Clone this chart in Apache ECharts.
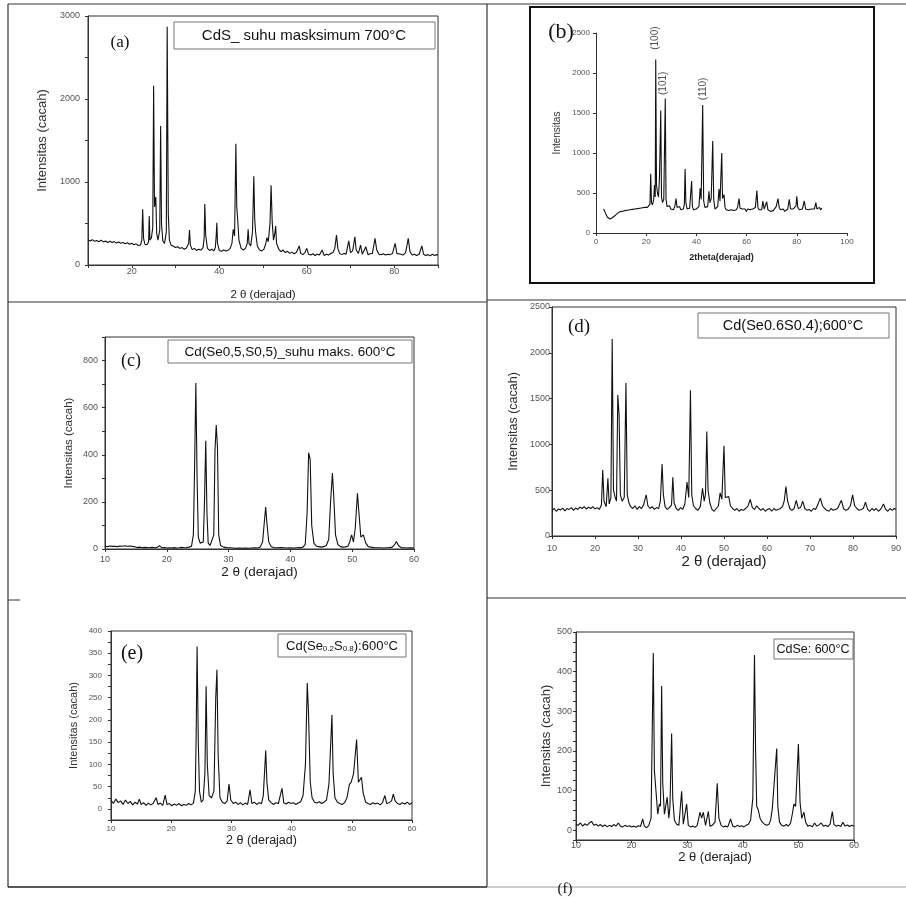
<!DOCTYPE html>
<html>
<head>
<meta charset="utf-8">
<script src="https://cdn.jsdelivr.net/npm/echarts@6/dist/echarts.min.js"></script>
<style>
  html, body { margin: 0; padding: 0; background: #fff; }
  #main { width: 906px; height: 897px; }
</style>
</head>
<body>
<div id="main"></div>
<script>
// ---- diffraction patterns: [2theta, counts] ----
var cdsA = [[10,300],[10.5,290],[11,305],[11.5,285],[12,295],[12.5,280],[13,300],[13.5,278],[14,290],[14.5,272],[15,285],[15.5,270],[16,282],[16.5,265],[17,278],[17.5,262],[18,270],[18.5,255],[19,268],[19.5,250],[20,262],[20.5,245],[21,255],[21.5,235],[22,240],
  [22.3,300],[22.5,670],[22.7,320],[23,250],[23.5,245],[23.85,280],[24,590],[24.15,300],[24.5,330],[24.8,450],[25,2160],[25.2,700],[25.5,820],[25.7,380],[26,300],[26.4,420],[26.6,1675],[26.8,500],[27.1,290],[27.5,260],[27.9,400],[28.1,2870],[28.35,620],[28.6,300],
  [29,240],[29.5,225],[30,210],[30.5,220],[31,200],[31.5,210],[32,190],[32.5,205],[33,260],[33.2,420],[33.4,240],[33.8,185],[34.3,200],[34.8,175],[35.3,190],[35.8,180],[36.3,210],[36.55,330],[36.7,735],[36.9,360],[37.3,200],[37.8,175],[38.3,190],[38.8,170],[39.1,210],[39.3,350],[39.45,510],[39.6,260],
  [40,175],[40.5,165],[41,180],[41.5,170],[42,175],[42.5,200],[42.9,260],[43.2,430],[43.5,350],[43.8,1460],[44,700],[44.2,560],[44.5,300],[45,200],[45.5,180],[46,200],[46.4,260],[46.6,430],[46.8,260],[47.2,230],[47.6,400],[47.9,1070],[48.1,560],[48.3,400],[48.7,230],[49.2,180],[49.7,170],
  [50.2,190],[50.6,250],[50.9,330],[51.2,280],[51.6,500],[51.85,960],[52.1,520],[52.4,300],[52.7,380],[52.9,470],[53.1,260],[53.6,190],[54.1,160],[54.6,180],[55.1,150],[55.6,165],[56.1,140],[56.6,155],[57.1,135],[57.6,150],[58,140],[58.3,230],[58.6,140],[59.1,125],[59.6,150],
  [60,200],[60.4,130],[60.9,120],[61.4,135],[61.9,115],[62.4,130],[62.9,120],[63.5,180],[64,115],[64.5,130],[65,120],[65.5,140],[66,150],[66.4,200],[66.8,360],[67.1,200],[67.5,140],[68,125],[68.5,140],[69,130],[69.6,290],[70,150],[70.5,170],[71,340],[71.3,180],[71.8,140],[72.3,240],[72.7,130],[73.5,220],[74,125],[74.5,135],[75,140],[75.6,320],[76,180],[76.5,130],[77,125],[77.5,135],[78,120],[78.5,130],[79,125],[79.6,140],
  [80.2,260],[80.6,140],[81,120],[81.5,130],[82,120],[82.6,150],[83.2,320],[83.6,160],[84.1,120],[84.6,130],[85.1,115],[85.7,130],[86.3,230],[86.7,130],[87.2,115],[87.7,125],[88.2,110],[88.7,130],[89.2,115],[89.7,125],[90,120]];

var patternB = [[3,300],[3.5,270],[4,230],[4.5,200],[5,185],[5.5,175],[6,180],[6.5,190],[7,200],[7.5,215],[8,230],[8.5,245],[9,255],[9.5,265],[10,275],[10.5,270],[11,285],[11.5,280],[12,290],[12.5,285],[13,295],[13.5,290],[14,300],[14.5,295],[15,305],[15.5,300],[16,310],[16.5,305],[17,320],[17.5,310],[18,330],[18.5,315],[19,325],[19.5,320],[20,330],[20.5,320],[21,340],[21.5,360],
  [21.8,740],[22.1,380],[22.5,350],[23,420],[23.3,600],[23.6,450],[23.8,2170],[24.1,600],[24.5,500],[24.9,450],[25.3,700],[25.8,1530],[26.1,450],[26.5,380],[27,420],[27.6,1680],[27.9,420],[28.3,330],[28.8,310],[29.3,340],[29.8,300],[30.3,320],[30.8,290],[31.4,330],[31.9,430],[32.3,320],[32.8,300],[33.3,330],[33.8,290],[34.3,310],[34.8,300],[35.2,360],[35.5,800],[35.8,380],[36.3,300],[36.8,290],[37.3,310],[37.8,330],[38.1,650],[38.4,330],[38.9,290],[39.4,270],[39.9,300],
  [40.4,280],[41,330],[41.5,560],[41.9,420],[42.5,1600],[42.9,400],[43.4,320],[43.9,300],[44.5,330],[45,520],[45.4,380],[45.9,430],[46.5,1150],[46.9,420],[47.4,300],[47.9,310],[48.5,330],[49,550],[49.4,400],[50.1,1000],[50.4,430],[51,480],[51.4,320],[51.9,290],[52.4,300],[52.9,280],[53.4,300],[53.9,290],[54.4,310],[54.9,280],[55.4,300],[55.9,290],[56.4,320],[57,430],[57.4,310],[57.9,290],[58.4,300],[58.9,280],[59.4,300],[59.9,270],
  [60.4,300],[60.9,280],[61.4,290],[61.9,270],[62.4,300],[62.9,280],[63.5,320],[64.1,530],[64.5,320],[65,290],[65.5,300],[66,290],[66.5,400],[67,300],[68,390],[68.5,290],[69,300],[69.5,270],[70,290],[70.6,280],[71.2,300],[71.8,330],[72.5,430],[73,320],[73.5,290],[74,280],[74.6,300],[75.2,270],[75.8,290],[76.4,300],[77,420],[77.5,300],[78,280],[78.6,300],[79.2,290],[79.7,340],
  [80,460],[80.4,320],[81,290],[81.6,280],[82.2,300],[82.7,310],[83,400],[83.5,300],[84,280],[84.6,290],[85.2,270],[85.8,300],[86.4,280],[87,300],[87.6,380],[88,300],[88.5,290],[89,320],[89.5,290],[90,310]];
var hklLabels = ['(100)', '(101)', '(110)'];
var hklPoints = [[23.8, 2290], [26.6, 1725], [42.7, 1660]];

var se05 = [[10,12],[10.4,10],[10.8,13],[11.2,11],[11.6,12],[12,10],[12.4,13],[12.8,12],[13.2,14],[13.6,12],[14,13],[14.4,11],[14.8,10],[15.2,6],[15.6,8],[16,5],[16.4,7],[16.8,6],[17.2,5],[17.6,7],[18,5],[18.4,6],[18.8,14],[19.2,5],[19.6,6],[20,4],[20.4,5],[20.8,4],[21.2,6],[21.6,4],[22,5],[22.4,7],[22.8,5],[23.2,6],[23.6,8],
  [24,12],[24.3,60],[24.5,350],[24.7,705],[24.9,300],[25.1,50],[25.4,25],[25.7,20],[25.9,30],[26.1,200],[26.3,460],[26.5,150],[26.7,25],[27,15],[27.3,18],[27.6,60],[27.8,420],[28,526],[28.2,430],[28.4,60],[28.7,15],[29.2,8],[29.7,6],[30.2,5],[30.7,4],[31.2,3],[31.7,4],[32.2,3],[32.7,4],[33.2,3],[33.7,4],[34.2,5],[34.7,4],
  [35.1,8],[35.5,30],[35.8,120],[36,178],[36.2,110],[36.5,30],[36.9,10],[37.3,6],[37.8,5],[38.1,12],[38.5,6],[39,5],[39.5,4],[40,5],[40.5,4],[41,5],[41.5,6],[42,7],[42.4,20],[42.7,150],[42.95,409],[43.2,380],[43.45,100],[43.8,25],[44.2,12],[44.6,10],[45,8],[45.4,10],[45.8,15],
  [46.2,40],[46.5,200],[46.8,322],[47,230],[47.3,60],[47.7,18],[48.1,10],[48.5,8],[48.9,9],[49.3,12],[49.6,30],[49.9,60],[50.2,30],[50.5,90],[50.85,237],[51.1,150],[51.4,50],[51.8,60],[52.2,25],[52.6,10],[53,8],[53.5,6],[54,5],[54.5,5],[55,4],[55.5,5],[56,6],[56.5,8],[56.9,20],[57.15,32],[57.5,15],[57.9,6],[58.4,5],[58.9,4],[59.4,5],[60,4]];

var se06 = [[10,280],[10.5,300],[11,270],[11.5,295],[12,285],[12.5,305],[13,275],[13.5,300],[14,290],[14.5,310],[15,280],[15.5,305],[16,290],[16.5,315],[17,300],[17.5,320],[18,295],[18.5,315],[19,300],[19.5,320],[20,295],[20.5,310],[21,290],[21.5,340],
  [21.8,720],[22.1,380],[22.6,320],[23,630],[23.3,350],[23.7,420],[24,2150],[24.3,500],[24.7,420],[25,380],[25.3,1540],[25.6,1320],[25.9,450],[26.3,380],[26.8,420],[27.2,1670],[27.5,450],[27.9,360],[28.3,320],[28.8,300],[29.3,330],[29.8,290],[30.3,320],[30.8,300],[31.3,340],[31.9,450],[32.3,330],[32.8,300],[33.3,320],[33.8,290],[34.3,310],[34.8,300],
  [35.2,380],[35.6,785],[35.9,450],[36.3,320],[36.8,290],[37.3,310],[37.8,340],[38.1,640],[38.4,360],[38.9,300],[39.4,280],[39.9,310],[40.4,290],[40.9,350],[41.4,590],[41.8,420],[42.2,1590],[42.5,450],[42.9,330],[43.4,300],[43.9,280],[44.5,320],[45,520],[45.4,380],[45.7,460],[46,1140],[46.3,500],[46.7,360],[47.2,290],[47.7,270],[48.2,300],[48.7,330],[49.1,470],[49.5,400],[50,985],[50.3,420],[51.1,430],[51.5,330],
  [52,300],[52.5,280],[53,300],[53.5,270],[54,290],[54.5,280],[55,300],[55.6,330],[56.1,400],[56.6,310],[57.1,290],[57.6,330],[58.1,300],[58.6,280],[59.1,300],[59.6,270],[60.1,290],[60.6,300],[61.1,270],[61.6,300],[62.1,280],[62.6,290],[63.1,300],[63.6,320],[64,380],[64.4,540],[64.8,380],[65.3,300],[65.8,280],[66.3,300],[66.8,390],[67.3,300],[67.8,310],[68.3,380],[68.8,300],[69.3,280],[69.8,290],
  [70.3,270],[70.8,300],[71.3,290],[71.8,340],[72.4,414],[72.9,330],[73.4,300],[73.9,280],[74.4,270],[74.9,300],[75.4,280],[75.9,290],[76.4,300],[77.3,390],[77.8,300],[78.3,280],[78.8,290],[79.4,330],[79.9,450],[80.4,330],[80.9,300],[81.4,280],[81.9,290],[82.4,300],[82.9,370],[83.4,290],[83.9,270],[84.4,300],[84.9,280],[85.4,300],[85.9,270],[86.4,290],[87.1,350],[87.6,290],[88.1,270],[88.6,300],[89.1,280],[89.6,300],[90,290]];

var se02 = [[10,20],[10.4,12],[10.8,22],[11.2,14],[11.6,18],[12,10],[12.4,20],[12.8,12],[13.2,17],[13.6,9],[14,15],[14.4,11],[14.7,22],[15,10],[15.4,14],[15.8,8],[16.2,13],[16.6,9],[17,12],[17.5,25],[17.8,10],[18.2,13],[18.6,8],[19,31],[19.3,10],[19.7,12],[20.1,7],[20.5,11],[20.9,8],[21.3,12],[21.7,7],[22.1,10],[22.5,8],[22.9,12],[23.3,9],[23.7,13],
  [24,40],[24.15,170],[24.3,365],[24.5,150],[24.7,40],[25,15],[25.3,20],[25.6,80],[25.8,276],[26,100],[26.3,30],[26.7,25],[27.1,40],[27.4,250],[27.6,313],[27.8,120],[28.1,25],[28.5,15],[28.9,12],[29.3,18],[29.6,56],[29.9,20],[30.3,12],[30.7,15],[31.1,10],[31.5,14],[31.9,9],[32.3,13],[32.7,10],[33.1,43],[33.4,12],[33.8,15],[34.2,10],[34.6,14],[35,12],
  [35.3,30],[35.7,131],[35.9,60],[36.2,20],[36.6,14],[37,10],[37.4,14],[37.8,12],[38.4,46],[38.7,14],[39.1,11],[39.5,15],[39.9,12],[40.3,14],[40.7,10],[41.1,13],[41.5,16],[41.9,30],[42.3,100],[42.6,283],[42.8,220],[43.1,60],[43.4,25],[43.8,15],[44.2,13],[44.6,16],[45,12],[45.4,15],[45.8,20],
  [46.2,55],[46.7,211],[46.9,80],[47.2,25],[47.6,15],[48,12],[48.4,10],[48.8,14],[49.2,25],[49.6,55],[49.9,60],[50.3,80],[50.8,156],[51.1,60],[51.6,71],[51.9,35],[52.3,15],[52.7,12],[53.1,10],[53.5,14],[53.9,11],[54.3,13],[54.7,9],[55.1,14],[55.5,30],[55.8,12],[56.2,14],[56.6,18],[56.9,33],[57.2,18],[57.6,12],[58,10],[58.4,14],[58.8,11],[59.2,15],[59.6,10],[60,14]];

var cdse = [[10,15],[10.4,12],[10.8,18],[11.2,10],[11.6,16],[12,12],[12.4,18],[12.8,22],[13.2,12],[13.6,15],[14,10],[14.4,14],[14.8,9],[15.2,13],[15.6,8],[16,12],[16.4,9],[16.8,14],[17.2,10],[17.6,18],[18,10],[18.4,8],[18.8,12],[19.2,9],[19.6,11],[20,8],[20.4,10],[20.8,7],[21.2,11],[21.6,9],[22,28],[22.3,10],[22.7,6],[23.1,12],
  [23.5,30],[23.9,447],[24.1,150],[24.4,96],[24.7,40],[25,66],[25.2,60],[25.4,364],[25.6,120],[25.9,40],[26.4,83],[26.7,30],[26.9,60],[27.2,244],[27.4,80],[27.7,25],[28.1,15],[28.5,12],[29,98],[29.3,15],[29.9,66],[30.2,12],[30.6,8],[31,10],[31.4,7],[31.8,12],[32.3,45],[32.6,30],[32.9,45],[33.3,12],[33.8,47],[34.1,10],[34.5,12],
  [35,20],[35.4,118],[35.7,30],[36.1,12],[36.5,8],[36.9,10],[37.3,8],[37.8,28],[38.2,10],[38.6,8],[39,12],[39.4,9],[39.8,11],[40.2,8],[40.6,12],[41,15],[41.4,25],[41.8,80],[42.1,442],[42.3,200],[42.5,60],[42.8,50],[43.1,30],[43.5,20],[43.9,15],[44.3,12],[44.7,15],
  [45,25],[45.3,53],[45.6,50],[46.1,206],[46.3,60],[46.6,20],[47,12],[47.4,10],[47.8,14],[48.2,10],[48.6,18],[48.9,40],[49.2,66],[49.5,60],[50,217],[50.3,70],[50.6,30],[51,45],[51.3,20],[51.7,10],[52.1,12],[52.5,8],[52.9,18],[53.3,10],[53.7,13],[54.1,18],[54.5,10],[54.9,12],[55.3,9],[55.7,15],[56.1,47],[56.4,14],[56.8,10],[57.2,12],[57.6,9],[58,20],[58.4,10],[58.8,13],[59.2,9],[59.6,12],[60,10]];

// ---- panel layout ----
var panels = [
  { data: cdsA, box: true, grid: {left: 88, top: 16, width: 350, height: 249},
    x: {min: 10, max: 90, step: 10, every: 20, size: 9, margin: 2},
    y: {min: 0, max: 3000, step: 500, every: 1000, size: 9, margin: 8},
    yName: 'Intensitas (cacah)', yNameSize: 13, yGap: 39,
    xName: '2 θ (derajad)', xNameSize: 11.5, xGap: 24 },
  { data: patternB, box: false, grid: {left: 596, top: 33, width: 251, height: 200},
    x: {min: 0, max: 100, step: 20, every: 20, size: 8, margin: 5},
    y: {min: 0, max: 2500, step: 500, every: 500, size: 8, margin: 6},
    yName: 'Intensitas', yNameSize: 10, yGap: 34,
    xName: '2theta(derajad)', xNameSize: 9, xNameBold: true, xGap: 20 },
  { data: se05, box: true, grid: {left: 105, top: 337, width: 309, height: 212},
    x: {min: 10, max: 60, step: 10, every: 10, size: 9, margin: 6},
    y: {min: 0, max: 900, step: 100, every: 200, size: 9, margin: 7},
    yName: 'Intensitas (cacah)', yNameSize: 11.5, yGap: 30,
    xName: '2 θ (derajad)', xNameSize: 13.5, xGap: 16 },
  { data: se06, box: true, grid: {left: 552, top: 307, width: 344, height: 229},
    x: {min: 10, max: 90, step: 10, every: 10, size: 9, margin: 8},
    y: {min: 0, max: 2500, step: 500, every: 500, size: 9, margin: 2},
    yName: 'Intensitas (cacah)', yNameSize: 12.5, yGap: 32,
    xName: '2 θ (derajad)', xNameSize: 15, xGap: 14 },
  { data: se02, box: true, grid: {left: 111, top: 631, width: 301, height: 189},
    x: {min: 10, max: 60, step: 10, every: 10, size: 8, margin: 5},
    y: {min: -25, max: 400, step: 25, every: 50, size: 8, margin: 9},
    yName: 'Intensitas (cacah)', yNameSize: 11, yGap: 32,
    xName: '2 θ (derajad)', xNameSize: 12.5, xGap: 14 },
  { data: cdse, box: true, grid: {left: 576, top: 632, width: 278, height: 208},
    x: {min: 10, max: 60, step: 10, every: 10, size: 9, margin: 1},
    y: {min: -25, max: 500, step: 25, every: 100, size: 9, margin: 4},
    yName: 'Intensitas (cacah)', yNameSize: 13, yGap: 19,
    xName: '2 θ (derajad)', xNameSize: 13, xGap: 2 }
];

var sans = 'Liberation Sans, Arial, sans-serif';
var serif = 'Liberation Serif, Times New Roman, serif';

function labelEvery(n) {
  return function (v) { return (v >= 0 && v % n === 0) ? String(v) : ''; };
}

var grids = [], xAxes = [], yAxes = [], series = [];
panels.forEach(function (p, i) {
  grids.push(Object.assign({show: p.box, borderColor: '#333', borderWidth: 1, backgroundColor: 'transparent'}, p.grid));
  xAxes.push({
    gridIndex: i, type: 'value', min: p.x.min, max: p.x.max, interval: p.x.step,
    splitLine: {show: false},
    axisLine: {show: true, onZero: false, lineStyle: {color: '#333', width: 1}},
    axisTick: {length: 3, lineStyle: {color: '#333'}},
    axisLabel: {fontSize: p.x.size, color: '#555', fontFamily: sans, margin: p.x.margin, formatter: labelEvery(p.x.every)},
    name: p.xName, nameLocation: 'middle', nameGap: p.xGap,
    nameTextStyle: {fontSize: p.xNameSize, color: '#222', fontFamily: sans, fontWeight: p.xNameBold ? 'bold' : 'normal'}
  });
  yAxes.push({
    gridIndex: i, type: 'value', min: p.y.min, max: p.y.max, interval: p.y.step,
    splitLine: {show: false},
    axisLine: {show: true, onZero: false, lineStyle: {color: '#333', width: 1}},
    axisTick: {length: 3, lineStyle: {color: '#333'}},
    axisLabel: {fontSize: p.y.size, color: '#555', fontFamily: sans, margin: p.y.margin, formatter: labelEvery(p.y.every)},
    name: p.yName, nameLocation: 'middle', nameGap: p.yGap,
    nameTextStyle: {fontSize: p.yNameSize, color: '#333', fontFamily: sans}
  });
  series.push({
    type: 'line', xAxisIndex: i, yAxisIndex: i, data: p.data,
    symbol: 'none', silent: true, animation: false,
    lineStyle: {color: '#111', width: 1.1}
  });
});

// Miller index annotations over the peaks of panel (b)
series.push({
  type: 'scatter', xAxisIndex: 1, yAxisIndex: 1, symbolSize: 0, silent: true, animation: false,
  data: hklPoints.map(function (pt, k) { return {value: pt, name: hklLabels[k]}; }),
  label: {show: true, formatter: '{b}', position: [0, 0], rotate: 90, align: 'left', verticalAlign: 'middle',
          fontSize: 10, color: '#222', fontFamily: sans}
});

function line(x1, y1, x2, y2, color, w) {
  return {type: 'line', silent: true, shape: {x1: x1, y1: y1, x2: x2, y2: y2}, style: {stroke: color || '#222', lineWidth: w || 1}};
}
function box(x, y, w, h, color, lw) {
  return {type: 'rect', silent: true, shape: {x: x, y: y, width: w, height: h}, style: {fill: 'none', stroke: color || '#777', lineWidth: lw || 1}};
}
function text(x, y, str, font, extra) {
  return {type: 'text', silent: true, x: x, y: y, z: 10,
          style: Object.assign({text: str, font: font, fill: '#111', align: 'center', verticalAlign: 'middle'}, extra || {})};
}

var graphics = [
  // page frame and dividers
  line(8, 4, 906, 4, '#333', 1.2),
  line(8, 4, 8, 887, '#333', 1.2),
  line(487, 4, 487, 887, '#333', 1.2),
  line(8, 302, 487, 302, '#333', 1.2),
  line(487, 300, 906, 300, '#333', 1.2),
  line(487, 598, 906, 598, '#333', 1.2),
  line(8, 600, 20, 600, '#333', 1),
  line(8, 887, 487, 887, '#222', 1.5),
  line(487, 887, 906, 887, '#999', 1),
  // frame around panel (b)
  box(530, 7, 344, 276, '#111', 2),
  // legend boxes
  box(174, 22, 261, 27),
  box(168, 340, 244, 23),
  box(698, 313, 191, 25),
  box(278, 634, 128, 23),
  box(774, 639, 79, 20),
  text(304, 36, 'CdS_ suhu masksimum 700°C', '15px ' + sans),
  text(290, 352, 'Cd(Se0,5,S0,5)_suhu maks. 600°C', '13.5px ' + sans),
  text(793, 326, 'Cd(Se0.6S0.4);600°C', '14.5px ' + sans),
  text(342, 646, '{a|Cd(Se}{s|0.2}{a|S}{s|0.8}{a|):600°C}', '13px ' + sans, {
    rich: {a: {fontSize: 13, fontFamily: sans, fill: '#111', verticalAlign: 'bottom'},
           s: {fontSize: 8, fontFamily: sans, fill: '#111', padding: [6, 0, 0, 0], verticalAlign: 'bottom'}}
  }),
  text(813, 650, 'CdSe: 600°C', '12.5px ' + sans),
  // panel letters
  text(120, 43, '(a)', '17px ' + serif),
  text(561, 32, '(b)', '22px ' + serif),
  text(131, 361, '(c)', '18px ' + serif),
  text(579, 327, '(d)', '19px ' + serif),
  text(132, 654, '(e)', '20px ' + serif),
  text(565, 889, '(f)', '15px ' + serif)
];

var chart = echarts.init(document.getElementById('main'));
chart.setOption({
  animation: false,
  backgroundColor: '#fff',
  grid: grids,
  xAxis: xAxes,
  yAxis: yAxes,
  series: series,
  graphic: {elements: graphics}
});
</script>
</body>
</html>
